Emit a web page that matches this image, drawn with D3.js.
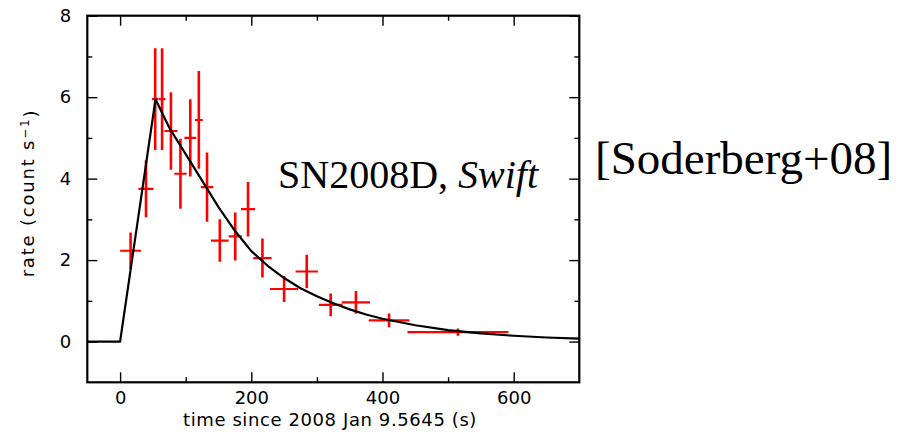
<!DOCTYPE html>
<html>
<head>
<meta charset="utf-8">
<script src="https://cdn.jsdelivr.net/npm/d3@7/dist/d3.min.js"></script>
<style>
  html, body { margin: 0; padding: 0; background: #fff; }
  svg { display: block; }
</style>
</head>
<body>
<svg id="chart" width="909" height="439"></svg>
<script>
// Swift XRT count rate of SN2008D: binned points with error bars
const obsTime    = [16, 39.5, 53.5, 64, 77.5, 92, 107, 120, 132.5, 152, 175.5, 195, 217, 250, 284.5, 321, 359.5, 410, 515];
const obsTimeErr = [16, 11.5, 5, 5, 10, 9.4, 9, 6, 9.5, 13.4, 10, 10.8, 14, 21.5, 17, 18, 21.5, 31, 77];
const obsRate    = [2.23, 3.75, 5.95, 5.95, 5.17, 4.12, 5.0, 5.44, 3.79, 2.48, 2.58, 3.25, 2.05, 1.29, 1.72, 0.90, 0.96, 0.52, 0.23];
const obsRateErr = [0.45, 0.7, 1.25, 1.25, 0.95, 0.86, 0.95, 1.2, 0.85, 0.52, 0.59, 0.67, 0.48, 0.32, 0.41, 0.28, 0.28, 0.17, 0.09];

// Model light curve: linear rise then decay
const modelTime = [-50, 0, 54, 75, 100, 125, 150, 175, 200, 225, 250, 275, 300, 325, 350, 375, 400, 450, 500, 550, 600, 650, 700];
const modelRate = [0, 0, 5.95, 5.25, 4.6, 3.95, 3.3, 2.72, 2.22, 1.86, 1.56, 1.31, 1.11, 0.94, 0.79, 0.665, 0.56, 0.40, 0.28, 0.20, 0.143, 0.10, 0.072];

const xMajor = [0, 200, 400, 600];
const xMinor = [100, 300, 500];
const yMajor = [0, 2, 4, 6, 8];
const yMinor = [1, 3, 5, 7];

const xLabel = "time since 2008 Jan 9.5645 (s)";
const titleMain = "SN2008D, ";
const titleItalic = "Swift";
const citation = "[Soderberg+08]";

const svg = d3.select("#chart");
const plotL = 87.3, plotR = 579.3, plotT = 15.7, plotB = 382.3;

const x = d3.scaleLinear().domain([-50, 700]).range([plotL, plotR]);
const y = d3.scaleLinear().domain([-1, 8]).range([plotB, plotT]);

svg.append("defs").append("clipPath").attr("id", "plot-clip")
  .append("rect").attr("x", plotL).attr("y", plotT)
  .attr("width", plotR - plotL).attr("height", plotB - plotT);

const sansFont = "'DejaVu Sans', Verdana, sans-serif";
const serifFont = "'Liberation Serif', 'Times New Roman', serif";

function styleAxis(g, withText) {
  g.select(".domain").remove();
  g.selectAll(".tick line").attr("stroke", "#000").attr("stroke-width", 1.4);
  if (withText) {
    g.selectAll(".tick text").attr("fill", "#000")
      .style("font-size", "18px").style("font-family", sansFont);
  } else {
    g.selectAll(".tick text").remove();
  }
}

// bottom axis (ticks point inward)
svg.append("g").attr("transform", `translate(0,${plotB})`)
  .call(d3.axisBottom(x).tickValues(xMajor).tickSize(-10).tickPadding(9).tickFormat(d3.format("d")))
  .call(g => styleAxis(g, true));
svg.append("g").attr("transform", `translate(0,${plotB})`)
  .call(d3.axisBottom(x).tickValues(xMinor).tickSize(-5))
  .call(g => styleAxis(g, false));
// top axis
svg.append("g").attr("transform", `translate(0,${plotT})`)
  .call(d3.axisTop(x).tickValues(xMajor).tickSize(-10))
  .call(g => styleAxis(g, false));
svg.append("g").attr("transform", `translate(0,${plotT})`)
  .call(d3.axisTop(x).tickValues(xMinor).tickSize(-5))
  .call(g => styleAxis(g, false));
// left axis
svg.append("g").attr("transform", `translate(${plotL},0)`)
  .call(d3.axisLeft(y).tickValues(yMajor).tickSize(-10).tickPadding(16).tickFormat(d3.format("d")))
  .call(g => styleAxis(g, true));
svg.append("g").attr("transform", `translate(${plotL},0)`)
  .call(d3.axisLeft(y).tickValues(yMinor).tickSize(-5))
  .call(g => styleAxis(g, false));
// right axis
svg.append("g").attr("transform", `translate(${plotR},0)`)
  .call(d3.axisRight(y).tickValues(yMajor).tickSize(-10))
  .call(g => styleAxis(g, false));
svg.append("g").attr("transform", `translate(${plotR},0)`)
  .call(d3.axisRight(y).tickValues(yMinor).tickSize(-5))
  .call(g => styleAxis(g, false));

// error bars
const pts = obsTime.map((t, i) => ({ t, te: obsTimeErr[i], r: obsRate[i], re: obsRateErr[i] }));
const bars = svg.append("g").attr("clip-path", "url(#plot-clip)").attr("stroke", "#ff0000");
bars.selectAll("line.h").data(pts).join("line").attr("class", "h")
  .attr("x1", d => x(d.t - d.te)).attr("x2", d => x(d.t + d.te))
  .attr("y1", d => y(d.r)).attr("y2", d => y(d.r))
  .attr("stroke-width", 2.2);
bars.selectAll("line.v").data(pts).join("line").attr("class", "v")
  .attr("x1", d => x(d.t)).attr("x2", d => x(d.t))
  .attr("y1", d => y(d.r - d.re)).attr("y2", d => y(d.r + d.re))
  .attr("stroke-width", 2.6);

// model curve
const model = modelTime.map((t, i) => [t, modelRate[i]]);
svg.append("path").datum(model)
  .attr("clip-path", "url(#plot-clip)")
  .attr("fill", "none").attr("stroke", "#000").attr("stroke-width", 2.2)
  .attr("stroke-linejoin", "round")
  .attr("d", d3.line().x(d => x(d[0])).y(d => y(d[1])));

// frame
svg.append("rect").attr("x", plotL).attr("y", plotT)
  .attr("width", plotR - plotL).attr("height", plotB - plotT)
  .attr("fill", "none").attr("stroke", "#000").attr("stroke-width", 2.2);

// axis titles
svg.append("text").attr("x", 330).attr("y", 426)
  .attr("text-anchor", "middle").style("font-family", sansFont).style("font-size", "18px")
  .style("letter-spacing", "0.6px")
  .text(xLabel);

const yt = svg.append("text")
  .attr("transform", `translate(34,193) rotate(-90)`)
  .attr("text-anchor", "middle").style("font-family", sansFont).style("font-size", "18px")
  .style("letter-spacing", "1.8px");
yt.append("tspan").text("rate (count s");
yt.append("tspan").attr("dy", "-0.45em").style("font-size", "12px").text("\u22121");
yt.append("tspan").attr("dy", "0.45em").text(")");

// annotation
const ann = svg.append("text").attr("x", 278).attr("y", 188)
  .style("font-family", serifFont).style("font-size", "40px");
ann.append("tspan").text(titleMain);
ann.append("tspan").style("font-style", "italic").text(titleItalic);

svg.append("text").attr("x", 595).attr("y", 174)
  .style("font-family", serifFont).style("font-size", "47px")
  .text(citation);
</script>
</body>
</html>
